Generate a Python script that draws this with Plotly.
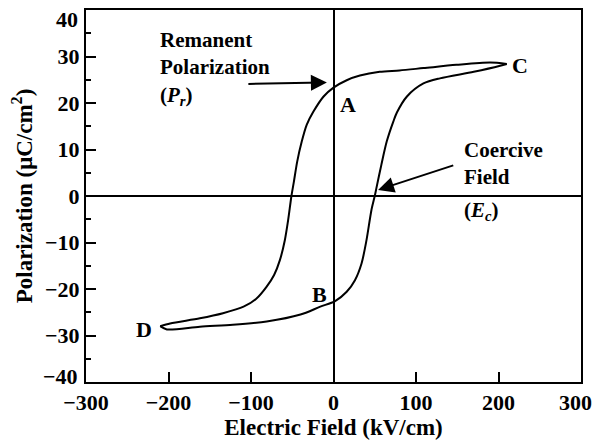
import plotly.graph_objects as go

# Ferroelectric hysteresis loop: field in kV/cm, polarization in uC/cm^2
# Lower (rising) branch, from the negative tip D up to the positive tip C
rise_field = [-210, -202, -162, -122, -81, -40, -16, 2, 16, 26, 34, 40, 46, 50, 52, 58, 64.5, 72.5, 77, 89, 109, 129, 170, 202, 210]
rise_pol = [-28.0, -28.7, -28.1, -27.7, -27.0, -25.5, -23.8, -22.6, -20.6, -18.1, -14.5, -9.5, -3.0, 0.0, 1.7, 6.7, 11.7, 16.0, 18.0, 21.4, 24.2, 25.3, 26.7, 28.0, 28.4]

# Upper (falling) branch, from C back down to D
fall_field = [210, 190, 149, 109, 80, 56, 32, 16, 0, -12, -24.5, -32.5, -38.5, -44, -48, -51, -55, -59, -65, -72, -81, -93, -109, -134, -162, -198, -210]
fall_pol = [28.4, 28.7, 28.2, 27.5, 27.0, 26.7, 25.9, 24.9, 23.3, 21.4, 18.1, 15.3, 11.7, 7.4, 3.1, 0.0, -5.2, -9.5, -13.8, -17.0, -19.5, -22.0, -23.8, -25.2, -26.3, -27.4, -28.0]

x_ticks = [-300, -200, -100, 0, 100, 200, 300]
x_labels = ["\u2212300", "\u2212200", "\u2212100", "0", "100", "200", "300"]
y_ticks = [-40, -30, -20, -10, 0, 10, 20, 30, 40]
y_labels = ["\u221240", "\u221230", "\u221220", "\u221210", "0", "10", "20", "30", "40"]

# Point labels on the loop
point_names = ["A", "B", "C", "D"]
point_x = [17.6, -16.4, 226, -230]
point_y = [19.6, -21.1, 28.0, -28.8]

FONT = "Liberation Serif"
BLACK = "black"

fig = go.Figure()
for xs, ys in ((rise_field, rise_pol), (fall_field, fall_pol)):
    fig.add_trace(go.Scatter(x=xs, y=ys, mode="lines",
                             line=dict(color=BLACK, width=2, shape="spline", smoothing=0.8),
                             showlegend=False, hoverinfo="skip"))

annotations = []
for name, px, py in zip(point_names, point_x, point_y):
    annotations.append(dict(x=px, y=py, text="<b>" + name + "</b>", showarrow=False,
                            xanchor="center", yanchor="middle",
                            font=dict(family=FONT, size=22, color=BLACK)))

# Remanent polarization label and arrow
annotations.append(dict(x=-212.7, y=36.6, text="<b>Remanent<br>Polarization<br>(<i>P</i><sub><i>r</i></sub>)</b>",
                        showarrow=False, xanchor="left", yanchor="top", align="left",
                        font=dict(family=FONT, size=21, color=BLACK)))
annotations.append(dict(x=-8, y=24.4, ax=-105, ay=24.1, axref="x", ayref="y",
                        xref="x", yref="y", text="", showarrow=True,
                        arrowhead=2, arrowsize=1.6, arrowwidth=2, arrowcolor=BLACK))

# Coercive field label and arrow
annotations.append(dict(x=155.5, y=12.8, text="<b>Coercive<br>Field</b>",
                        showarrow=False, xanchor="left", yanchor="top", align="left",
                        font=dict(family=FONT, size=21, color=BLACK)))
annotations.append(dict(x=156, y=-0.1, text="<b>(<i>E</i><sub><i>c</i></sub>)</b>",
                        showarrow=False, xanchor="left", yanchor="top", align="left",
                        font=dict(family=FONT, size=21, color=BLACK)))
annotations.append(dict(x=54, y=1.3, ax=147, ay=6.7, axref="x", ayref="y",
                        xref="x", yref="y", text="", showarrow=True,
                        arrowhead=2, arrowsize=1.6, arrowwidth=2, arrowcolor=BLACK))

# Labels at the ends of the axes are nudged inward so they stay on the page
tick_font = dict(family=FONT, size=22, color=BLACK)
annotations.append(dict(x=0, xref="paper", y=y_ticks[-1], yref="y", text="<b>" + y_labels[-1] + "</b>",
                        showarrow=False, xanchor="right", yanchor="middle", xshift=-6, yshift=-9,
                        font=tick_font))
annotations.append(dict(x=0, xref="paper", y=y_ticks[0], yref="y", text="<b>" + y_labels[0] + "</b>",
                        showarrow=False, xanchor="right", yanchor="middle", xshift=-6, yshift=6,
                        font=tick_font))
annotations.append(dict(x=x_ticks[-1], xref="x", y=0, yref="paper", text="<b>" + x_labels[-1] + "</b>",
                        showarrow=False, xanchor="right", yanchor="middle", xshift=13, yshift=-20,
                        font=tick_font))

x_text = ["<b>" + t + "</b>" for t in x_labels]
x_text[-1] = ""
y_text = ["<b>" + t + "</b>" for t in y_labels]
y_text[0] = ""
y_text[-1] = ""

fig.update_layout(
    width=594, height=444,
    margin=dict(l=86, r=13, t=10, b=62),
    paper_bgcolor="white", plot_bgcolor="white",
    font=dict(family=FONT, size=22, color=BLACK),
    annotations=annotations,
)
fig.update_xaxes(
    range=[-300, 300], tickvals=x_ticks, ticktext=x_text,
    ticks="inside", ticklen=10, tickwidth=2, tickcolor=BLACK,
    ticklabeloverflow="allow", automargin=False,
    showline=True, linecolor=BLACK, linewidth=2, mirror=True,
    showgrid=False, zeroline=True, zerolinecolor=BLACK, zerolinewidth=1.5,
    tickfont=tick_font,
    title=dict(text="<b>Electric Field (kV/cm)</b>", font=dict(family=FONT, size=23), standoff=3),
)
fig.update_yaxes(
    range=[-40, 40], tickvals=y_ticks, ticktext=y_text,
    ticks="inside", ticklen=10, tickwidth=2, tickcolor=BLACK,
    ticklabeloverflow="allow", automargin=False,
    minor=dict(dtick=5, ticks="inside", ticklen=5, tickwidth=2, tickcolor=BLACK, showgrid=False),
    showline=True, linecolor=BLACK, linewidth=2, mirror=True,
    showgrid=False, zeroline=True, zerolinecolor=BLACK, zerolinewidth=1.5,
    tickfont=tick_font,
    title=dict(text="<b>Polarization (\u03bcC/cm<sup>2</sup>)</b>", font=dict(family=FONT, size=23), standoff=6),
)

fig.write_html("out.html")
